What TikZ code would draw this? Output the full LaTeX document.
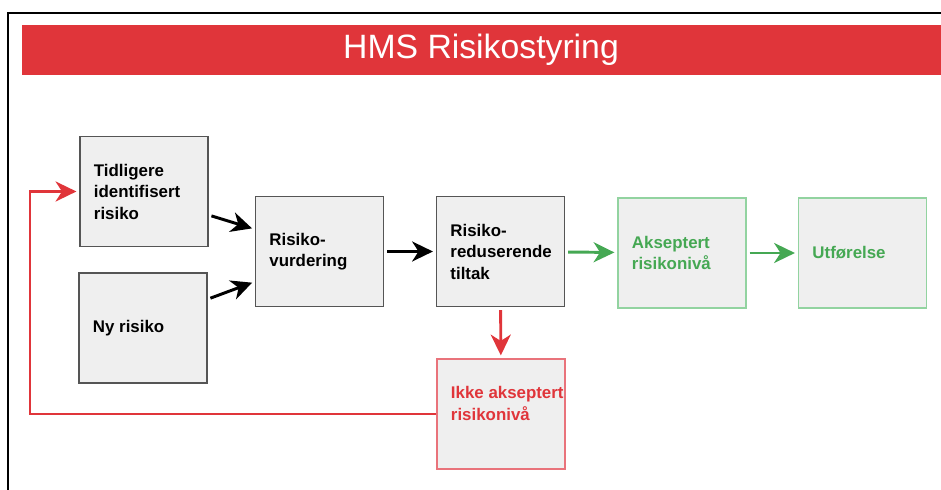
\documentclass[tikz,border=0pt]{standalone}
\usepackage{fontspec}
\setmainfont{Liberation Sans}
\usepackage{tikz}
\usetikzlibrary{arrows.meta}

\definecolor{hmsred}{HTML}{E0353A}
\definecolor{hmsredline}{HTML}{E9737B}
\definecolor{hmsgreen}{HTML}{45A853}
\definecolor{hmsgreenline}{HTML}{92D3A0}
\definecolor{boxgray}{HTML}{EFEFEF}
\definecolor{boxline}{HTML}{555555}

\begin{document}
\begin{tikzpicture}[x=0.025cm, y=-0.025cm]
		\tikzset{box/.style={shape = rectangle, draw = boxline, fill = boxgray, line width = 0.8pt,
				minimum width = 3.2cm, minimum height = 2.75cm, inner xsep = 0.35cm,
				text width = 2.5cm, align = flush left, font = \fontsize{12}{15.3}\selectfont\bfseries}}
		\tikzset{okbox/.style={box, draw = hmsgreenline, text = hmsgreen}}
		\tikzset{badbox/.style={box, draw = hmsredline, text = hmsred}}
		\tikzset{flow/.style={-{Stealth[length=5.2mm, width=5mm, inset=1.6mm]}, line width = 2.1pt,
				shorten > = 0.75mm, shorten < = 0.75mm}}
		\useasboundingbox (0, 0) rectangle (941, 490);
		%frame and title
		\draw[line width = 1.6pt] (8, 490) -- (8, 13) -- (941, 13);
		\fill[hmsred] (22, 25) rectangle (941, 75);
		\node[text = white, font = \fontsize{24}{28}\selectfont] (title) at (481, 50) {HMS Risikostyring};
		%boxes
		\node[box] (tid) at (144, 191.5) {Tidligere\\identifisert\\risiko};
		\node[box] (ny) at (143, 328) {Ny risiko};
		\node[box] (vur) at (319.5, 251.5) {Risiko-\\vurdering};
		\node[box] (red) at (500.5, 251.5) {Risiko-\\reduserende\\tiltak};
		\node[okbox] (aks) at (682, 253) {Akseptert\\risikonivå};
		\node[okbox] (utf) at (862.5, 253) {Utførelse};
		\node[badbox] (ikke) at (501, 414) {\mbox{Ikke akseptert}\\risikonivå\\~};
		\coordinate (back) at (30, 300);
		%arrows
		\draw[flow] (tid.-20) -- (vur.161);
		\draw[flow] (ny.24) -- (vur.205);
		\draw[flow] (vur) -- (red);
		\draw[flow, hmsgreen] (red) -- (aks);
		\draw[flow, hmsgreen] (aks) -- (utf);
		\draw[flow, hmsred] (red) -- (ikke);
		\draw[flow, hmsred, shorten < = 0pt] (ikke.west) -| (back) |- (tid.west);
\end{tikzpicture}
\end{document}
